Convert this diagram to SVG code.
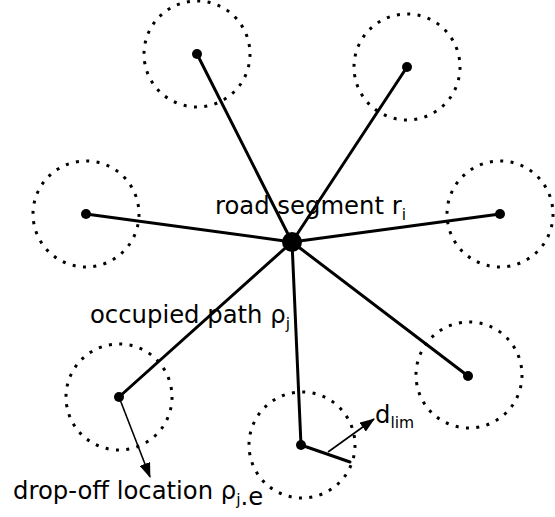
<svg xmlns="http://www.w3.org/2000/svg" width="555" height="517" viewBox="0 0 555 517">
  <style>
    .range { fill: none; stroke: #000; stroke-width: 3; stroke-dasharray: 3 7.4; }
    .road { stroke: #000; stroke-width: 3; stroke-linecap: round; fill: none; }
    .vec { stroke: #000; stroke-width: 1.6; fill: none; }
    .pt { fill: #000; }
    text { font-family: "DejaVu Sans", sans-serif; font-size: 24.3px; fill: #000; }
    .sub { font-size: 15.5px; }
  </style>
  <defs>
    <marker id="head" viewBox="0 0 15 11" refX="14" refY="5.5" markerWidth="15" markerHeight="11" markerUnits="userSpaceOnUse" orient="auto">
      <path d="M0,0 L15,5.5 L0,11 Z" fill="#000"/>
    </marker>
  </defs>

  <!-- dotted reach circles around each segment end -->
  <g id="ranges">
    <circle class="range" cx="197" cy="54" r="53"/>
    <circle class="range" cx="407" cy="67" r="53"/>
    <circle class="range" cx="86" cy="214" r="53"/>
    <circle class="range" cx="500" cy="214" r="53"/>
    <circle class="range" cx="119" cy="397" r="53"/>
    <circle class="range" cx="469" cy="375" r="53"/>
    <circle class="range" cx="302" cy="445" r="53"/>
  </g>

  <!-- connectors: road segments from the hub -->
  <g id="connectors">
    <line class="road" x1="292" y1="242" x2="197" y2="54"/>
    <line class="road" x1="292" y1="242" x2="407" y2="67"/>
    <line class="road" x1="292" y1="242" x2="86" y2="214"/>
    <line class="road" x1="292" y1="242" x2="500" y2="214"/>
    <line class="road" x1="292" y1="242" x2="119" y2="397"/>
    <line class="road" x1="292" y1="242" x2="468" y2="376"/>
    <line class="road" x1="292" y1="242" x2="301" y2="445"/>
    <line class="road" x1="301" y1="445" x2="350" y2="462"/>
    <line class="vec" x1="328" y1="452" x2="374" y2="419" marker-end="url(#head)"/>
    <line class="vec" x1="119" y1="397" x2="150" y2="477" marker-end="url(#head)"/>
  </g>

  <g id="hub"><circle class="pt" cx="292" cy="242" r="10"/></g>
  <g id="end-nw"><circle class="pt" cx="197" cy="54" r="5"/></g>
  <g id="end-ne"><circle class="pt" cx="407" cy="67" r="5"/></g>
  <g id="end-w"><circle class="pt" cx="86" cy="214" r="5"/></g>
  <g id="end-e"><circle class="pt" cx="500" cy="214" r="5"/></g>
  <g id="end-sw"><circle class="pt" cx="119" cy="397" r="5"/></g>
  <g id="end-se"><circle class="pt" cx="468" cy="376" r="5"/></g>
  <g id="end-s"><circle class="pt" cx="301" cy="445" r="5"/></g>

  <g id="labels">
    <text x="215" y="214">road segment r<tspan class="sub" dy="6">i</tspan></text>
    <text x="90" y="323">occupied path ρ<tspan class="sub" dy="6">j</tspan></text>
    <text x="375" y="423">d<tspan class="sub" dy="5">lim</tspan></text>
    <text x="13" y="499">drop-off location ρ<tspan class="sub" dy="6">j</tspan><tspan dy="0">.e</tspan></text>
  </g>
</svg>
